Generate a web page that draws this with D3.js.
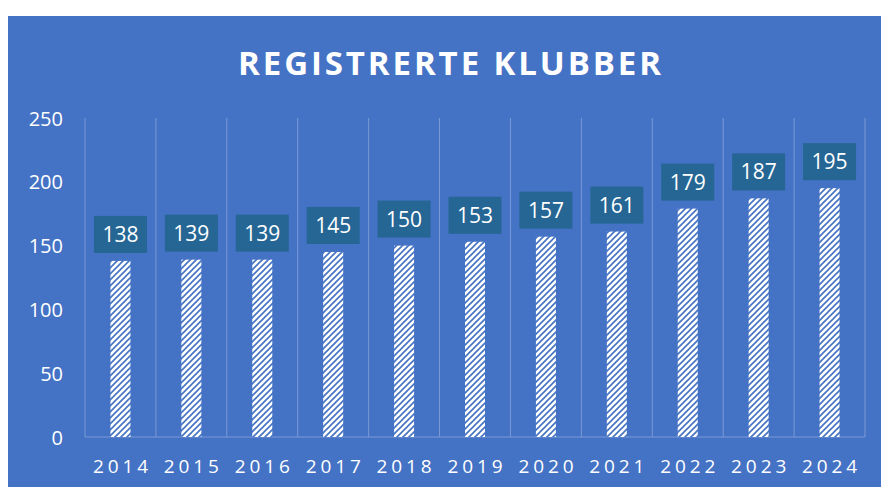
<!DOCTYPE html>
<html><head><meta charset="utf-8">
<script src="https://cdn.jsdelivr.net/npm/d3@7"></script>
<style>html,body{margin:0;padding:0;background:#fff;}svg{display:block;}</style>
</head><body>
<script>
const categories = ["2014","2015","2016","2017","2018","2019","2020","2021","2022","2023","2024"];
const values = [138,139,139,145,150,153,157,161,179,187,195];
const yTicks = [0,50,100,150,200,250];
const title = "REGISTRERTE KLUBBER";

(function(){
const W = 881, H = 487;
const svg = d3.select("body").append("svg").attr("width", W).attr("height", H);
const bg = "#4472C4";
svg.append("rect").attr("x", 8).attr("y", 16).attr("width", W - 8).attr("height", H - 16).attr("fill", bg);

const defs = svg.append("defs");
const pat = defs.append("pattern").attr("id", "hatch").attr("patternUnits", "userSpaceOnUse")
  .attr("width", 6).attr("height", 6);
pat.append("rect").attr("width", 6).attr("height", 6).attr("fill", "#fff");
pat.append("path").attr("d", "M-1,1 L1,-1 M0,6 L6,0 M5,7 L7,5")
  .attr("stroke", bg).attr("stroke-width", 1.6);

const pl = 85, pr = 865, pt = 118, pb = 437;
const x = d3.scaleBand().domain(categories).range([pl, pr]).padding(0);
const y = d3.scaleLinear().domain([0, 250]).range([pb, pt]);

const gridColor = "#7b9ad6";
const bounds = categories.map(c => x(c)).concat([x(categories[categories.length-1]) + x.bandwidth()]);
svg.append("g").selectAll("line").data(bounds).join("line")
  .attr("x1", d => d).attr("x2", d => d).attr("y1", y(250)).attr("y2", y(0))
  .attr("stroke", gridColor).attr("stroke-width", 1);
svg.append("line").attr("x1", pl).attr("x2", pr).attr("y1", y(0)).attr("y2", y(0))
  .attr("stroke", gridColor).attr("stroke-width", 1);

svg.append("text").attr("x", 451).attr("y", 75).attr("text-anchor", "middle")
  .attr("fill", "#fff").attr("font-family", "Open Sans").attr("font-weight", "bold")
  .attr("font-size", 33).attr("letter-spacing", 2.9).text(title);

const yAxis = d3.axisLeft(y).tickValues(yTicks).tickSize(0).tickPadding(0);
const yg = svg.append("g").attr("transform", `translate(63,0)`).call(yAxis);
yg.select(".domain").remove();
yg.selectAll("text").attr("fill", "#fff").attr("font-family", "Open Sans").attr("font-size", 20).attr("dy", "0.35em");

const xAxis = d3.axisBottom(x).tickSize(0).tickPadding(0);
const xg = svg.append("g").attr("transform", `translate(0,${pb})`).call(xAxis);
xg.select(".domain").remove();
xg.selectAll("text").attr("fill", "#fff").attr("font-family", "Open Sans").attr("font-size", 19)
  .attr("letter-spacing", 3.9).attr("dy", 0).attr("y", 36).attr("dx", 2);

const bw = 20;
svg.append("g").selectAll("rect").data(values).join("rect")
  .attr("x", (d, i) => x(categories[i]) + x.bandwidth() / 2 - bw / 2)
  .attr("y", d => y(d)).attr("width", bw).attr("height", d => y(0) - y(d))
  .attr("fill", "url(#hatch)");

const lw = 53, lh = 37;
const lg = svg.append("g").selectAll("g").data(values).join("g")
  .attr("transform", (d, i) => `translate(${x(categories[i]) + x.bandwidth() / 2},${y(d) - 8 - lh})`);
lg.append("rect").attr("x", -lw / 2).attr("y", 0).attr("width", lw).attr("height", lh).attr("fill", "#256694");
lg.append("text").attr("x", 0).attr("y", lh / 2).attr("dy", "0.36em").attr("text-anchor", "middle")
  .attr("fill", "#fff").attr("font-family", "Open Sans").attr("font-size", 21).text(d => d);
})();
</script>
</body></html>
